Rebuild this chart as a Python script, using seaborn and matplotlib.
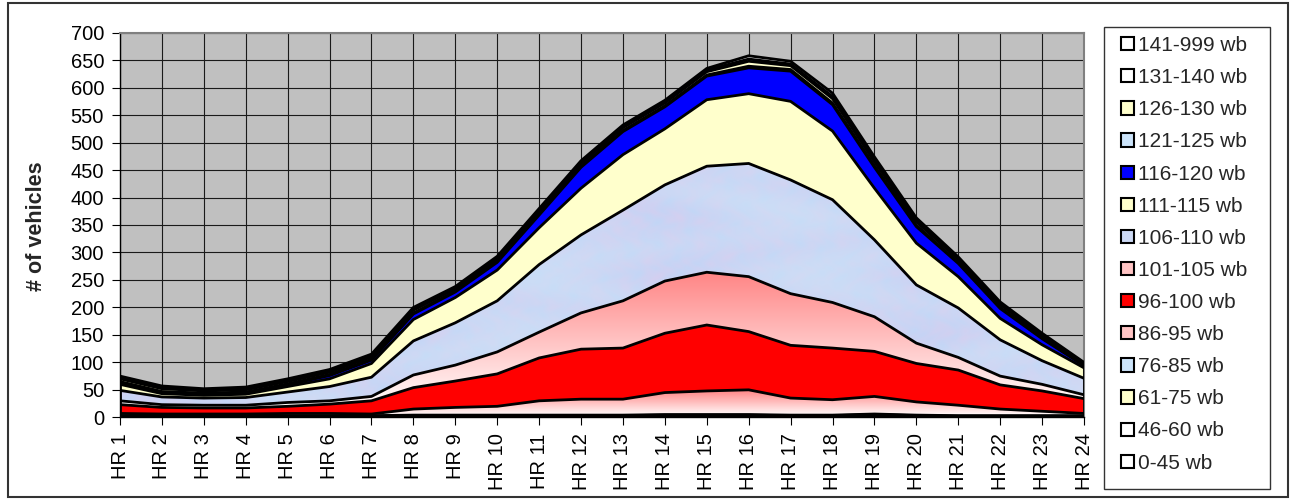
import matplotlib
matplotlib.use("Agg")
import matplotlib.pyplot as plt
from matplotlib.patches import Patch, Rectangle
import numpy as np
import pandas as pd
import seaborn as sns

# --------------------------------------------
# DATA (vehicles per hour, by wheelbase class, bottom of stack first)
# --------------------------------------------
HOURS = [f"HR {i}" for i in range(1, 25)]

WB_0_45 = [1, 1, 1, 1, 1, 1, 1, 1, 1, 1, 1, 1, 1, 2, 2, 2, 1, 1, 3, 1, 1, 1, 1, 1]
WB_46_60 = [1, 1, 1, 1, 1, 1, 1, 1, 1, 1, 1, 1, 1, 1, 1, 1, 1, 1, 1, 1, 1, 1, 1, 1]
WB_61_75 = [0, 0, 0, 0, 0, 0, 0, 1, 1, 1, 1, 1, 1, 1, 1, 1, 1, 1, 1, 1, 0, 0, 0, 0]
WB_76_85 = [1, 1, 1, 1, 1, 1, 1, 1, 1, 1, 1, 1, 1, 1, 1, 1, 1, 1, 1, 1, 1, 1, 1, 1]
WB_86_95 = [4, 3, 3, 3, 4, 4, 3, 11, 14, 16, 26, 29, 29, 40, 43, 45, 31, 28, 32, 24, 19, 12, 8, 4]
WB_96_100 = [16, 12, 11, 11, 13, 17, 24, 39, 48, 59, 78, 91, 93, 108, 120, 106, 96, 94, 82, 70, 64, 44, 37, 27]
WB_101_105 = [7, 5, 5, 5, 7, 6, 8, 23, 29, 40, 47, 66, 86, 95, 96, 100, 94, 83, 63, 37, 23, 16, 12, 7]
WB_106_110 = [19, 14, 13, 14, 19, 26, 35, 62, 77, 93, 123, 142, 165, 175, 193, 206, 207, 187, 140, 106, 90, 66, 43, 30]
WB_111_115 = [11, 6, 5, 6, 10, 14, 25, 39, 46, 56, 67, 85, 101, 102, 121, 127, 143, 125, 94, 76, 57, 39, 29, 19]
WB_116_120 = [3, 2, 2, 2, 3, 6, 6, 10, 10, 14, 23, 38, 42, 40, 43, 47, 55, 48, 38, 30, 24, 18, 11, 4]
WB_121_125 = [2, 2, 2, 2, 2, 2, 2, 2, 2, 2, 2, 2, 2, 2, 2, 3, 3, 3, 3, 3, 2, 2, 2, 1]
WB_126_130 = [5, 5, 4, 4, 4, 4, 4, 5, 4, 4, 5, 5, 5, 5, 6, 9, 7, 8, 7, 6, 5, 5, 4, 2]
WB_131_140 = [2, 2, 2, 2, 2, 2, 2, 2, 2, 2, 2, 2, 2, 2, 3, 4, 3, 4, 4, 3, 2, 2, 2, 1]
WB_141_999 = [3, 3, 2, 3, 3, 3, 3, 3, 2, 3, 3, 3, 3, 3, 3, 6, 5, 6, 5, 4, 3, 3, 2, 2]

LABELS = [
    "0-45 wb", "46-60 wb", "61-75 wb", "76-85 wb", "86-95 wb", "96-100 wb",
    "101-105 wb", "106-110 wb", "111-115 wb", "116-120 wb", "121-125 wb",
    "126-130 wb", "131-140 wb", "141-999 wb",
]
VALUES = [
    WB_0_45, WB_46_60, WB_61_75, WB_76_85, WB_86_95, WB_96_100, WB_101_105,
    WB_106_110, WB_111_115, WB_116_120, WB_121_125, WB_126_130, WB_131_140,
    WB_141_999,
]

# --------------------------------------------
# STYLE
# --------------------------------------------
WHITE = "#FFFFFF"
LT_YELLOW = "#FFFFCC"
LT_BLUE = "#CCE4FA"
BLUE = "#0000FF"
RED = "#FF0000"
SALMON = "#FF8585"
FILLS = {
    "0-45 wb": WHITE, "46-60 wb": WHITE, "61-75 wb": LT_YELLOW,
    "76-85 wb": LT_BLUE, "86-95 wb": "gradient", "96-100 wb": RED,
    "101-105 wb": "gradient", "106-110 wb": "tissue", "111-115 wb": LT_YELLOW,
    "116-120 wb": BLUE, "121-125 wb": LT_BLUE, "126-130 wb": LT_YELLOW,
    "131-140 wb": WHITE, "141-999 wb": WHITE,
}
LEGEND_SWATCH = {"gradient": "#FFC4C4", "tissue": "#CCD9F4"}


def gradient_image():
    t = np.linspace(0, 1, 256)[:, None, None]
    salmon = np.array(matplotlib.colors.to_rgb(SALMON))
    return (1 - t) * np.ones(3) + t * salmon


def tissue_image():
    """Soft mottled blue/lavender paper look, built from overlapping waves."""
    yy, xx = np.mgrid[0:240, 0:960].astype(float)
    p = (np.sin(xx * 0.131 + np.sin(yy * 0.071) * 2.3)
         * np.sin(yy * 0.173 + np.cos(xx * 0.047) * 1.9)
         + 0.6 * np.sin(xx * 0.311 + np.sin(yy * 0.23) * 2.1)
         * np.cos(yy * 0.287 + np.sin(xx * 0.09) * 1.7))
    q = np.sin(xx * 0.023 + np.sin(yy * 0.061) * 1.5) * np.cos(yy * 0.049)
    p = (p - p.min()) / (p.max() - p.min())
    q = (q + 1) / 2
    blue = np.array([194, 213, 246]) / 255
    lav = np.array([212, 207, 240]) / 255
    cyan = np.array([206, 230, 248]) / 255
    img = p[..., None] * blue + (1 - p[..., None]) * lav
    img = q[..., None] * img + (1 - q[..., None]) * (0.5 * img + 0.5 * cyan)
    return np.clip(img, 0, 1)


W, H = 1295, 503
sns.set_theme(style="white")
plt.rcParams["font.family"] = ["Liberation Sans", "DejaVu Sans"]

fig = plt.figure(figsize=(W / 100, H / 100), dpi=100)
ax = fig.add_axes([120 / W, 1 - 417.3 / H, 964 / W, 384.6 / H])
ax.set_facecolor("#C0C0C0")

x = np.arange(len(HOURS))
cum = np.zeros(len(HOURS))
rows = []
for label, vals in zip(LABELS, VALUES):
    lower = cum.copy()
    upper = cum + np.array(vals, dtype=float)
    fill = FILLS[label]
    if fill in ("gradient", "tissue"):
        poly = ax.fill_between(x, lower, upper, facecolor="none",
                               edgecolor="none", zorder=2)
        img = gradient_image() if fill == "gradient" else tissue_image()
        im = ax.imshow(img, extent=(0, len(HOURS) - 1, lower.min(), upper.max()),
                       origin="lower", aspect="auto", interpolation="bilinear",
                       zorder=2)
        im.set_clip_path(poly.get_paths()[0], transform=ax.transData)
    else:
        ax.fill_between(x, lower, upper, facecolor=fill, edgecolor="none",
                        zorder=2)
    for xi, yi in zip(x, upper):
        rows.append({"band": label, "pos": xi, "top": yi})
    cum = upper

# outlines of every band (seaborn line per boundary)
edges = pd.DataFrame(rows)
sns.lineplot(data=edges, x="pos", y="top", units="band", estimator=None,
             color="black", linewidth=2.0, legend=False, ax=ax, zorder=4)
ax.plot([0, len(HOURS) - 1], [0, 0], color="black", lw=2.5, zorder=4)
ax.vlines([0, len(HOURS) - 1], 0, [cum[0], cum[-1]], color="black", lw=2.0,
          zorder=4)

ax.set_xlim(0, len(HOURS) - 1)
ax.set_ylim(0, 700)
ax.set_yticks(np.arange(0, 701, 50))
ax.set_xticks(x)
ax.set_xticklabels(HOURS, rotation=90)
ax.set_xlabel("")
ax.set_ylabel("")
ax.grid(True, color="#1a1a1a", lw=0.8)
ax.set_axisbelow(True)
ax.tick_params(axis="both", direction="out", length=5.5, width=0.8,
               color="black", labelsize=14.5, labelcolor="black", pad=6)
ax.tick_params(axis="x", bottom=True)
ax.tick_params(axis="y", left=True)
for side in ("left", "bottom"):
    ax.spines[side].set_color("black")
    ax.spines[side].set_linewidth(1.0)
for side in ("top", "right"):
    ax.spines[side].set_color("#808080")
    ax.spines[side].set_linewidth(1.5)

fig.text(37 / W, 1 - 226 / H, "# of vehicles", rotation=90, ha="center",
         va="center", fontsize=15.5, fontweight="bold")

# legend, top entry first; frame drawn separately at its fixed size
handles = []
for label in reversed(LABELS):
    fc = LEGEND_SWATCH.get(FILLS[label], FILLS[label])
    handles.append(Patch(facecolor=fc, edgecolor="black", linewidth=1.5,
                         label=label))
leg = fig.legend(handles=handles, loc="upper left",
                 bbox_to_anchor=(1121 / W, 1 - 36 / H), borderaxespad=0,
                 fontsize=15, frameon=False,
                 handlelength=0.6, handleheight=0.6, handletextpad=0.2,
                 labelspacing=0.63, borderpad=0)
fig.add_artist(Rectangle((1104 / W, 1 - 489.3 / H), 166 / W, 462 / H,
                         transform=fig.transFigure, fill=False,
                         edgecolor="#333333", linewidth=1.0))

# outer chart border
fig.add_artist(Rectangle((8 / W, 1 - 497 / H), 1280 / W, 494 / H,
                         transform=fig.transFigure, fill=False,
                         edgecolor="#333333", linewidth=1.5))

fig.savefig("out.png", dpi=100)
